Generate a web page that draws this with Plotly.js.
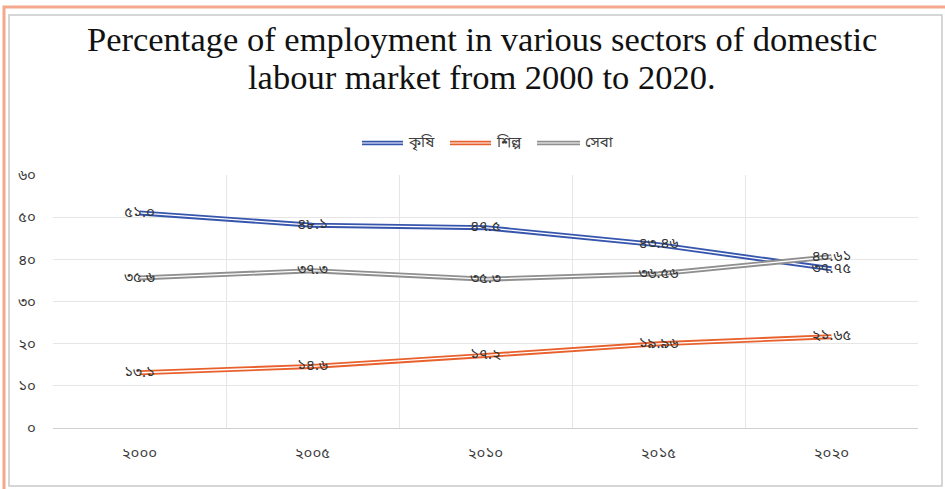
<!DOCTYPE html>
<html>
<head>
<meta charset="utf-8">
<script src="https://cdn.plot.ly/plotly-3.0.1.min.js"></script>
<style>html,body{margin:0;padding:0;background:#fff;}#chart{width:945px;height:489px;}</style>
</head>
<body>
<div id="chart"></div>
<script>
const years = ['২০০০', '২০০৫', '২০১০', '২০১৫', '২০২০'];
const seriesNames = ['কৃষি', 'শিল্প', 'সেবা'];
const agriculture = [51.0, 48.1, 47.5, 43.46, 37.75];
const industry = [13.1, 14.6, 17.2, 19.96, 21.65];
const services = [35.6, 37.3, 35.3, 36.56, 40.61];
const agricultureLabels = ['৫১.০', '৪৮.১', '৪৭.৫', '৪৩.৪৬', '৩৭.৭৫'];
const industryLabels = ['১৩.১', '১৪.৬', '১৭.২', '১৯.৯৬', '২১.৬৫'];
const servicesLabels = ['৩৫.৬', '৩৭.৩', '৩৫.৩', '৩৬.৫৬', '৪০.৬১'];
const yTickVals = [0, 10, 20, 30, 40, 50, 60];
const yTickText = ['০', '১০', '২০', '৩০', '৪০', '৫০', '৬০'];
const titleLines = ['Percentage of employment in various sectors of domestic', 'labour market from 2000 to 2020.'];

const colors = ['#3655ad', '#e8602c', '#8f8f8f'];
const values = [agriculture, industry, services];
const labels = [agricultureLabels, industryLabels, servicesLabels];
const bnFont = '"Noto Sans Bengali", "Vrinda", "Lohit Bengali", "Noto Sans", sans-serif';

const traces = [];
values.forEach((v, i) => {
  traces.push({x: years, y: v, type: 'scatter', mode: 'lines', name: seriesNames[i],
    line: {color: colors[i], width: 5}, showlegend: false, hoverinfo: 'skip'});
  traces.push({x: years, y: v, type: 'scatter', mode: 'lines+text', name: seriesNames[i],
    line: {color: '#ffffff', width: 1.3}, text: labels[i], textposition: 'middle center',
    textfont: {family: bnFont, size: 15, color: '#333333'}, showlegend: false, hoverinfo: 'skip'});
});

function px(x){ return (x - 53) / 865; }
function py(y){ return (428 - y) / 253; }

const shapes = [
  {type: 'rect', xref: 'paper', yref: 'paper', x0: px(4), x1: px(960), y0: py(520), y1: py(7),
   line: {color: '#f4a98c', width: 3}, fillcolor: 'rgba(0,0,0,0)', layer: 'below'},
  {type: 'rect', xref: 'paper', yref: 'paper', x0: px(9), x1: px(942), y0: py(486), y1: py(15),
   line: {color: '#c9c9c9', width: 1.5}, fillcolor: 'rgba(0,0,0,0)', layer: 'below'}
];
const annotations = [
  {xref: 'paper', yref: 'paper', x: px(482), y: py(39), xanchor: 'center', yanchor: 'middle', showarrow: false,
   text: titleLines[0], font: {family: '"Liberation Serif", "Times New Roman", serif', size: 34.5, color: '#111111'}},
  {xref: 'paper', yref: 'paper', x: px(482), y: py(77), xanchor: 'center', yanchor: 'middle', showarrow: false,
   text: titleLines[1], font: {family: '"Liberation Serif", "Times New Roman", serif', size: 34.5, color: '#111111'}}
];
const legendPos = [[362, 403, 406], [450, 491, 494], [537, 580, 583]];
legendPos.forEach((p, i) => {
  shapes.push({type: 'line', xref: 'paper', yref: 'paper', x0: px(p[0]), x1: px(p[1]), y0: py(143), y1: py(143),
    line: {color: colors[i], width: 4.5}});
  shapes.push({type: 'line', xref: 'paper', yref: 'paper', x0: px(p[0]), x1: px(p[1]), y0: py(143), y1: py(143),
    line: {color: '#ffffff', width: 1.2}});
  annotations.push({xref: 'paper', yref: 'paper', x: px(p[2]), y: py(143), xanchor: 'left', yanchor: 'middle',
    text: seriesNames[i], showarrow: false, font: {family: bnFont, size: 15, color: '#404040'}});
});

const layout = {
  width: 945, height: 489,
  margin: {l: 53, r: 27, t: 175, b: 61, pad: 0},
  paper_bgcolor: '#ffffff', plot_bgcolor: '#ffffff',
  showlegend: false,
  xaxis: {type: 'category', tickson: 'boundaries', range: [-0.5, 4.5], showgrid: true, gridcolor: '#e6e6e6', gridwidth: 1,
    showline: true, linecolor: '#d0d0d0', linewidth: 1, ticks: '', zeroline: false,
    tickfont: {family: bnFont, size: 15, color: '#3a3a3a'}, ticklabelstandoff: 11},
  yaxis: {range: [0, 60], tickvals: yTickVals, ticktext: yTickText, showgrid: true, gridcolor: '#e6e6e6',
    gridwidth: 1, zeroline: false, showline: false, ticks: '',
    tickfont: {family: bnFont, size: 15, color: '#3a3a3a'}, ticklabelstandoff: 16},
  shapes: shapes,
  annotations: annotations
};

Plotly.newPlot('chart', traces, layout, {displayModeBar: false, staticPlot: true});
</script>
</body>
</html>
